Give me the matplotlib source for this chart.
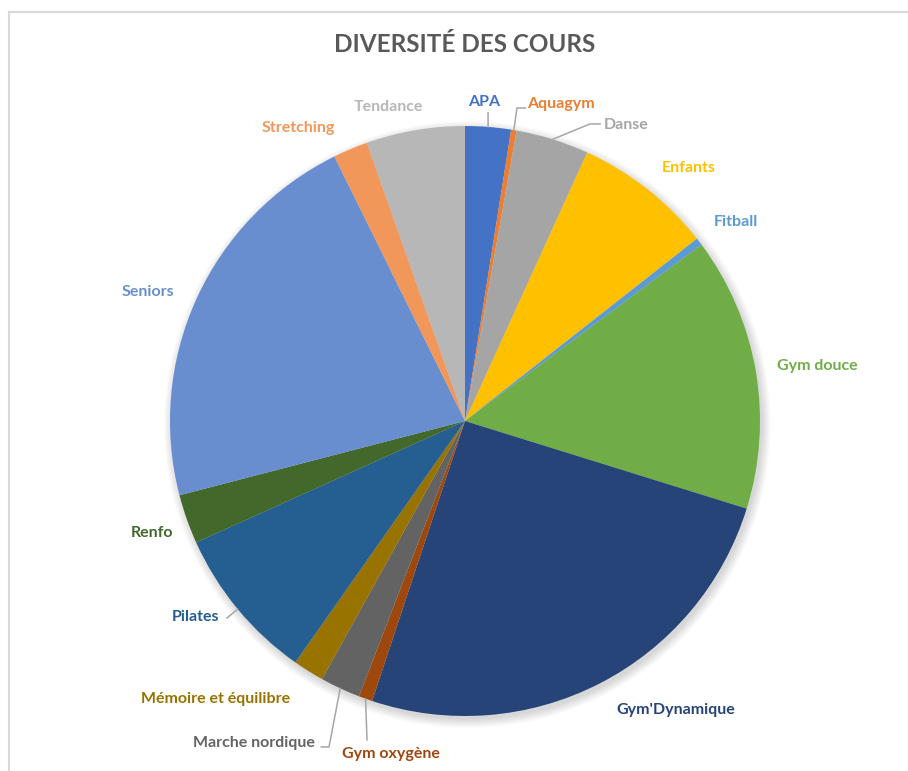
import numpy as np
import matplotlib.pyplot as plt
from matplotlib.patches import Circle

plt.rcParams['font.family'] = ['Lato', 'DejaVu Sans']

# data (share of classes, in %)
cours = ["APA", "Aquagym", "Danse", "Enfants", "Fitball", "Gym douce",
         "Gym'Dynamique", "Gym oxygène", "Marche nordique",
         "Mémoire et équilibre", "Pilates", "Renfo", "Seniors",
         "Stretching", "Tendance"]
parts = [2.5, 0.3, 4.0, 7.6, 0.4, 15.0, 25.3, 0.75, 2.2, 1.7, 8.5, 2.7,
         21.75, 1.9, 5.4]

colors = ['#4472C4', '#ED7D31', '#A5A5A5', '#FFC000', '#5B9BD5', '#70AD47',
          '#264478', '#9E480E', '#636363', '#997300', '#255E91', '#43682B',
          '#698ED0', '#F1975A', '#B7B7B7']

# label anchors (pie radius = 1)
label_xy = [(0.064, 1.080), (0.325, 1.076), (0.546, 1.005), (0.759, 0.856),
            (0.919, 0.673), (1.193, 0.188), (0.715, -0.981), (-0.251, -1.130),
            (-0.715, -1.093), (-0.847, -0.941), (-0.915, -0.663),
            (-1.061, -0.381), (-1.075, 0.436), (-0.566, 0.992), (-0.258, 1.063)]

# leader lines: slice index -> extra points after the slice edge
leaders = {
    0: [(0.078, 1.045)],
    1: [(0.176, 1.061), (0.205, 1.061)],
    2: [(0.424, 1.007), (0.458, 1.007)],
    7: [(-0.332, -1.081)],
    8: [(-0.461, -1.105), (-0.487, -1.105)],
    10: [(-0.807, -0.668)],
}

fig = plt.figure(figsize=(9.08, 7.71), dpi=100)
ax = fig.add_axes([0, 0, 1, 1])
R = 295.0
cx, cy = 465.0, 421.0

# soft shadow
for k in range(8):
    ax.add_patch(Circle((0.008, -0.012), 1.0 + 0.004 * k, color='black',
                        alpha=0.018, lw=0, zorder=0))

ax.pie(parts, colors=colors, startangle=90, counterclock=False, radius=1.0,
       wedgeprops=dict(linewidth=0), frame=True)

total = float(np.sum(parts))
cum = np.cumsum(parts)
for i, name in enumerate(cours):
    x, y = label_xy[i]
    ax.text(x, y, name, color=colors[i], fontsize=11.5, fontweight='bold',
            ha='center', va='center', zorder=5)
    if i in leaders:
        mid = np.deg2rad(90 - 360 * (cum[i] - parts[i] / 2) / total)
        pts = [(np.cos(mid), np.sin(mid))] + leaders[i]
        xs, ys = zip(*pts)
        ax.plot(xs, ys, color='#A6A6A6', lw=1.1, zorder=4)

ax.set_xlim(-cx / R, (908 - cx) / R)
ax.set_ylim(-(771 - cy) / R, cy / R)
ax.set_aspect('auto')
ax.axis('off')

fig.text(465 / 908, 1 - 44 / 771, "DIVERSITÉ DES COURS", ha='center',
         va='center', fontsize=17.5, fontweight='bold', color='#595959')

# chart frame (top and left edges visible)
fig.add_artist(plt.Line2D([9 / 908, 9 / 908], [0, 1 - 12 / 771],
                          transform=fig.transFigure, color='#D9D9D9', lw=1.5))
fig.add_artist(plt.Line2D([9 / 908, 1], [1 - 12 / 771, 1 - 12 / 771],
                          transform=fig.transFigure, color='#D9D9D9', lw=1.5))

fig.savefig("out.png", dpi=100)
